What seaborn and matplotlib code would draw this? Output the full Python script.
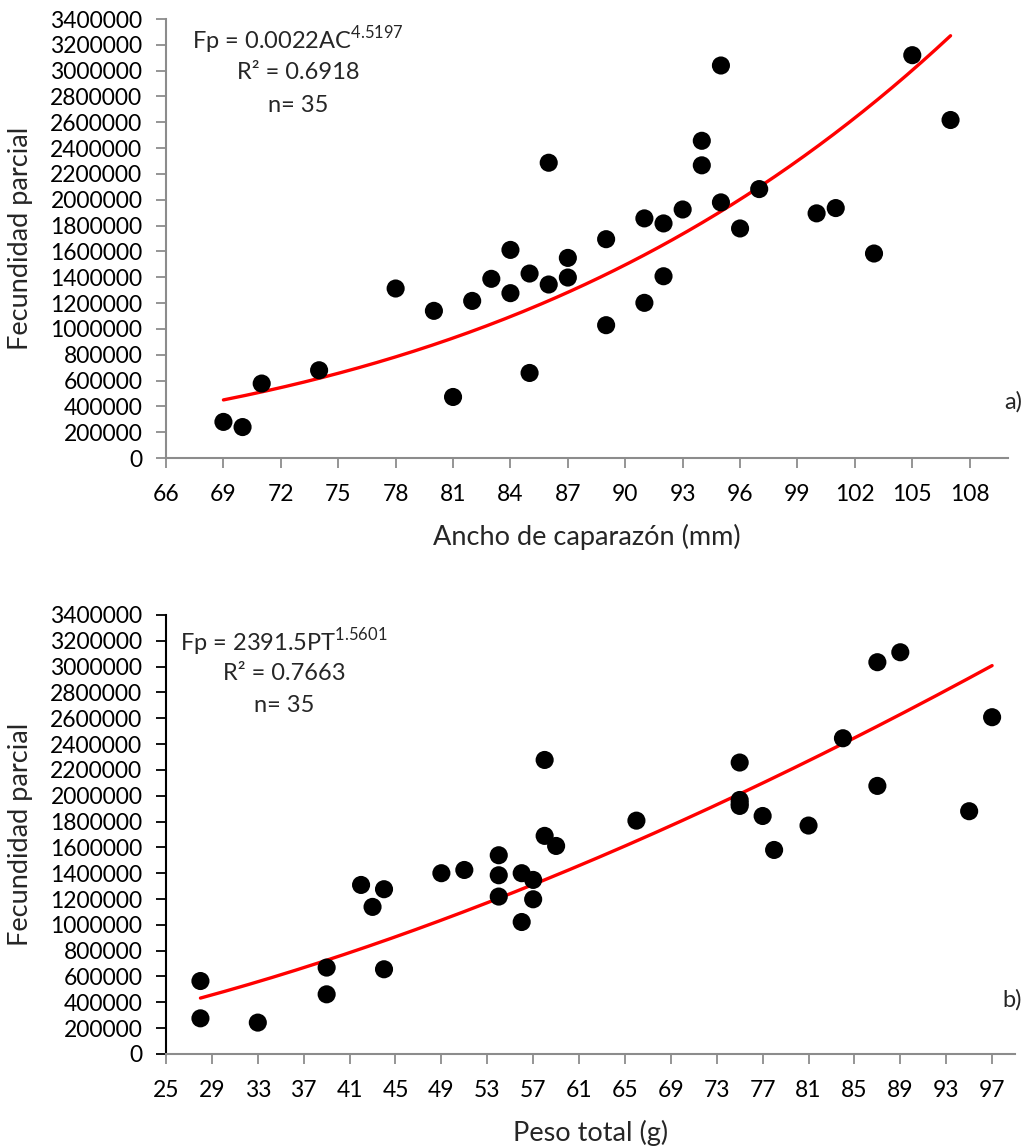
import numpy as np
import pandas as pd
import matplotlib
matplotlib.use('Agg')
import matplotlib.pyplot as plt
import seaborn as sns

# --- data ---
# panel a) carapace width (mm) vs partial fecundity
ancho = [69, 70, 71, 74, 78, 80, 81, 82, 83, 84, 84, 85, 85, 86, 86, 87, 87,
         89, 89, 91, 91, 92, 92, 93, 94, 94, 95, 95, 96, 97, 100, 101, 103, 105, 107]
fp_a = [280000, 240000, 577000, 680000, 1313000, 1140000, 473000, 1217000, 1388000,
        1612000, 1277000, 1429000, 659000, 2287000, 1344000, 1550000, 1398000,
        1695000, 1029000, 1856000, 1202000, 1817000, 1408000, 1925000, 2457000,
        2267000, 3040000, 1980000, 1778000, 2083000, 1895000, 1936000, 1584000,
        3120000, 2618000]

# panel b) total weight (g) vs partial fecundity
peso = [28, 28, 33, 39, 39, 42, 43, 44, 44, 49, 51, 54, 54, 54, 56, 56, 57, 57,
        58, 58, 59, 66, 75, 75, 75, 75, 77, 78, 81, 84, 87, 87, 89, 95, 97]
fp_b = [565000, 276000, 243000, 669000, 462000, 1309000, 1139000, 1276000, 656000,
        1400000, 1425000, 1539000, 1384000, 1219000, 1400000, 1022000, 1348000,
        1198000, 2277000, 1689000, 1611000, 1807000, 2257000, 1967000, 1921000,
        1940000, 1843000, 1580000, 1769000, 2445000, 3034000, 2076000, 3111000,
        1880000, 2608000]

# fitted power curves as printed on the chart
coef_a, exp_a = 0.0022, 4.5197
coef_b, exp_b = 2391.5, 1.5601

yticks = list(range(0, 3400001, 200000))
xticks_a = list(range(66, 109, 3))
xticks_b = list(range(25, 98, 4))

sns.set_style('white')
plt.rcParams['font.family'] = ['Lato', 'DejaVu Sans']
plt.rcParams['mathtext.fontset'] = 'custom'
plt.rcParams['mathtext.rm'] = 'Lato'

fig = plt.figure(figsize=(10.28, 11.46), dpi=100)
ax1 = fig.add_axes([0.1615, 0.6003, 0.819, 0.3831])
ax2 = fig.add_axes([0.1615, 0.0803, 0.8259, 0.3831])


def draw_panel(ax, x, y, coef, expo, xlim, xticks, xlabel, spine_y, ylab_x):
    df = pd.DataFrame({'x': x, 'y': y})
    sns.scatterplot(data=df, x='x', y='y', ax=ax, color='black', s=170,
                    edgecolor='none', zorder=3)
    xc = np.linspace(min(x), max(x), 200)
    fit = pd.DataFrame({'x': xc, 'y': coef * xc ** expo})
    sns.lineplot(data=fit, x='x', y='y', ax=ax, color='#FF0000', linewidth=2.4,
                 zorder=2)
    ax.set_xlim(*xlim)
    ax.set_ylim(0, 3400000)
    ax.set_xticks(xticks)
    ax.set_yticks(yticks)
    ax.set_yticklabels([str(v) for v in yticks])
    ax.tick_params(axis='both', labelsize=16.5, direction='out', length=7,
                   width=1.3, bottom=True, left=True)
    ax.tick_params(axis='x', colors='#8c8c8c', labelcolor='black', pad=12)
    ax.tick_params(axis='y', colors=spine_y, labelcolor='black', pad=10)
    for s in ['top', 'right']:
        ax.spines[s].set_visible(False)
    ax.spines['bottom'].set_color('#8c8c8c')
    ax.spines['bottom'].set_linewidth(1.5)
    ax.spines['left'].set_color(spine_y)
    ax.spines['left'].set_linewidth(1.5)
    ax.set_xlabel(xlabel, fontsize=19.5, labelpad=13)
    ax.set_ylabel('Fecundidad parcial', fontsize=19.5)
    ax.yaxis.set_label_coords(ylab_x, 0.5)


draw_panel(ax1, ancho, fp_a, coef_a, exp_a, (66, 110), xticks_a,
           'Ancho de caparazón (mm)', '#8c8c8c', -0.158)
draw_panel(ax2, peso, fp_b, coef_b, exp_b, (25, 99), xticks_b,
           'Peso total (g)', 'black', -0.157)

tsize = 17
ax1.text(0.157, 0.952, r'Fp = 0.0022AC$^{\mathrm{4.5197}}$', transform=ax1.transAxes,
         ha='center', va='center', fontsize=tsize)
ax1.text(0.157, 0.879, 'R² = 0.6918', transform=ax1.transAxes,
         ha='center', va='center', fontsize=tsize)
ax1.text(0.157, 0.804, 'n= 35', transform=ax1.transAxes,
         ha='center', va='center', fontsize=tsize)
ax1.text(1.006, 0.128, 'a)', transform=ax1.transAxes,
         ha='center', va='center', fontsize=tsize)

ax2.text(0.139, 0.939, r'Fp = 2391.5PT$^{\mathrm{1.5601}}$', transform=ax2.transAxes,
         ha='center', va='center', fontsize=tsize)
ax2.text(0.139, 0.866, 'R² = 0.7663', transform=ax2.transAxes,
         ha='center', va='center', fontsize=tsize)
ax2.text(0.139, 0.793, 'n= 35', transform=ax2.transAxes,
         ha='center', va='center', fontsize=tsize)
ax2.text(0.996, 0.123, 'b)', transform=ax2.transAxes,
         ha='center', va='center', fontsize=tsize)

fig.savefig('out.png', dpi=100)
